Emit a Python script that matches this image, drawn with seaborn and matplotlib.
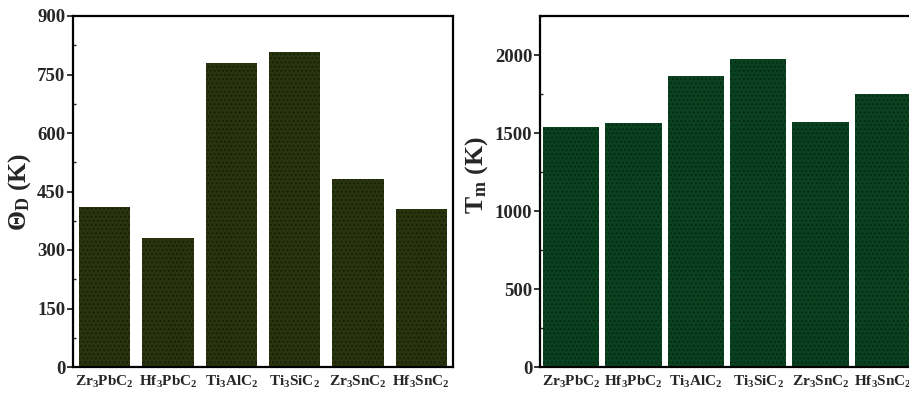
import matplotlib
matplotlib.use("Agg")
import matplotlib.pyplot as plt
import seaborn as sns
import pandas as pd
from matplotlib.ticker import MultipleLocator

# ---- data ----
categories = ["Zr$_3$PbC$_2$", "Hf$_3$PbC$_2$", "Ti$_3$AlC$_2$",
              "Ti$_3$SiC$_2$", "Zr$_3$SnC$_2$", "Hf$_3$SnC$_2$"]
debye_temp = [411, 331, 780, 807, 481, 404]
melt_temp = [1536, 1562, 1863, 1974, 1570, 1752]

sns.set_theme(style="ticks")
plt.rcParams["font.family"] = ["Liberation Serif", "DejaVu Serif"]
plt.rcParams["font.weight"] = "bold"
plt.rcParams["mathtext.fontset"] = "custom"
plt.rcParams["mathtext.rm"] = "Liberation Serif:bold"
plt.rcParams["mathtext.it"] = "Liberation Serif:italic:bold"
plt.rcParams["mathtext.bf"] = "Liberation Serif:bold"
plt.rcParams["hatch.linewidth"] = 0.8

fig = plt.figure(figsize=(9.09, 3.97), dpi=100)
ax1 = fig.add_axes([73/909, 30/397, 380/909, 351/397])
ax2 = fig.add_axes([540/909, 30/397, 374/909, 351/397])

df1 = pd.DataFrame({"mat": categories, "val": debye_temp})
df2 = pd.DataFrame({"mat": categories, "val": melt_temp})

sns.barplot(data=df1, x="mat", y="val", color="#29340f", saturation=1,
            width=0.81, ax=ax1)
sns.barplot(data=df2, x="mat", y="val", color="#0a4220", saturation=1,
            width=0.9, ax=ax2)

for ax, dotc in ((ax1, "#161c07"), (ax2, "#052714")):
    for p in ax.patches:
        p.set_hatch("....")
        p.set_edgecolor(dotc)
        p.set_linewidth(0)

ax1.set_ylim(0, 900)
ax1.yaxis.set_major_locator(MultipleLocator(150))
ax1.yaxis.set_minor_locator(MultipleLocator(75))
ax2.set_ylim(0, 2250)
ax2.yaxis.set_major_locator(MultipleLocator(500))
ax2.yaxis.set_minor_locator(MultipleLocator(250))

for ax in (ax1, ax2):
    ax.set_xlim(-0.5, 5.5)
    ax.set_xlabel("")
    for s in ax.spines.values():
        s.set_linewidth(1.6)
        s.set_color("black")
        s.set_visible(True)
    ax.tick_params(axis="y", which="major", direction="out", length=4,
                   width=1.3, labelsize=13.5, pad=1.5)
    ax.tick_params(axis="y", which="minor", direction="in", length=2.5,
                   width=1.0)
    ax.tick_params(axis="x", length=0, labelsize=11, pad=5)
    for lab in ax.get_yticklabels() + ax.get_xticklabels():
        lab.set_fontweight("bold")

ax1.set_ylabel("Θ$_{\\rm D}$ (K)", fontsize=18.5, fontweight="bold")
ax2.set_ylabel("T$_{\\rm m}$ (K)", fontsize=18.5, fontweight="bold")
ax1.yaxis.set_label_coords(-0.105, 0.5)
ax2.yaxis.set_label_coords(-0.133, 0.545)

fig.savefig("out.png", dpi=100, facecolor="white")
